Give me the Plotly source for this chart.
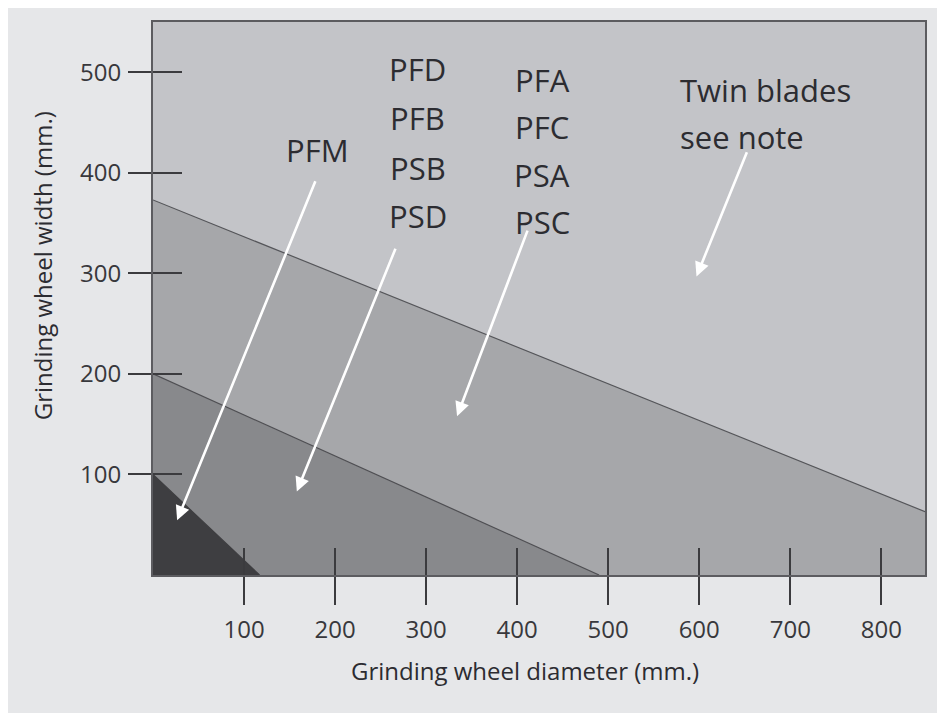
import plotly.graph_objects as go

# ---- data ----
zone_names = ["PFM", "PFD/PFB/PSB/PSD", "PFA/PFC/PSA/PSC"]
boundary_diameter = [[0, 117], [0, 490], [0, 848]]
boundary_width = [[100, 0], [200, 0], [373, 63]]

x_ticks = [100, 200, 300, 400, 500, 600, 700, 800]
y_ticks = [100, 200, 300, 400, 500]
x_range = [0, 848]
y_range = [0, 550]

label_texts = ["PFM",
               "PFD", "PFB", "PSB", "PSD",
               "PFA", "PFC", "PSA", "PSC",
               "Twin blades", "see note"]
label_x = [181, 291, 291, 291, 291, 427.5, 427.5, 427.5, 427.5, 577, 577]
label_y = [423, 503, 455, 405, 357, 492, 445.5, 398, 351.5, 482.5, 436]

arrow_tail_x = [179, 267, 412, 653]
arrow_tail_y = [393, 326, 344, 422]
arrow_head_x = [26.5, 158, 334, 597]
arrow_head_y = [54.5, 83, 158, 297]

# ---- styles ----
zone_colors = ["#3e3e41", "#88898c", "#a6a7aa"]
edge_colors = ["#3e3e41", "#4f4f53", "#55565a"]
top_color = "#c3c4c8"
paper_color = "#e6e7e9"
text_color = "#2c2c31"
font_family = "Open Sans, Noto Sans, sans-serif"

fig = go.Figure()

# draw from largest zone to smallest so the smaller ones sit on top
for i in [2, 1, 0]:
    bx = boundary_diameter[i]
    by = boundary_width[i]
    px = [0] + bx + [bx[-1], 0]
    py = [0] + by + [0, 0]
    fig.add_trace(go.Scatter(
        x=px, y=py, mode="none", fill="toself", fillcolor=zone_colors[i],
        hoverinfo="skip", showlegend=False, name=zone_names[i]))
    fig.add_trace(go.Scatter(
        x=bx, y=by, mode="lines", line=dict(color=edge_colors[i], width=1.2),
        hoverinfo="skip", showlegend=False))

# invisible trace on overlay axes (for inside tick marks)
fig.add_trace(go.Scatter(x=[x_range[0]], y=[y_range[0]], xaxis="x2", yaxis="y2",
                         mode="markers", marker=dict(opacity=0), hoverinfo="skip",
                         showlegend=False))

annotations = []
for t, x, y in zip(label_texts, label_x, label_y):
    left = t in ("Twin blades", "see note")
    annotations.append(dict(
        x=x, y=y, xref="x", yref="y", text=t, showarrow=False,
        xanchor="left" if left else "center", yanchor="middle",
        font=dict(family=font_family, size=31, color=text_color)))

for tx, ty, hx, hy in zip(arrow_tail_x, arrow_tail_y, arrow_head_x, arrow_head_y):
    annotations.append(dict(
        x=hx, y=hy, ax=tx, ay=ty, xref="x", yref="y", axref="x", ayref="y",
        text="", showarrow=True, arrowhead=2, arrowsize=1.1, arrowwidth=2.6,
        arrowcolor="white", standoff=0, startstandoff=0))

# axis titles
annotations.append(dict(
    x=0.482, y=-0.173, xref="paper", yref="paper", showarrow=False,
    text="Grinding wheel diameter (mm.)", xanchor="center", yanchor="middle",
    font=dict(family=font_family, size=24, color=text_color)))
annotations.append(dict(
    x=-0.1438, y=0.56, xref="paper", yref="paper", showarrow=False,
    text="Grinding wheel width (mm.)", textangle=-90,
    xanchor="center", yanchor="middle",
    font=dict(family=font_family, size=24, color=text_color)))

tick_color = "#3b3b3e"
tickfont = dict(family=font_family, size=24, color="#38383c")

fig.update_layout(
    width=945, height=713,
    margin=dict(l=145, r=28, t=12, b=146),
    paper_bgcolor=paper_color,
    plot_bgcolor=top_color,
    showlegend=False,
    annotations=annotations,
    xaxis=dict(range=x_range, tickvals=x_ticks, ticks="outside", ticklen=28,
               tickwidth=2, tickcolor=tick_color, showgrid=False, zeroline=False,
               showline=True, linecolor="#5c5c60", linewidth=2, mirror=True,
               tickfont=tickfont, ticklabelstandoff=4),
    yaxis=dict(range=y_range, tickvals=y_ticks, ticks="outside", ticklen=23,
               tickwidth=2, tickcolor=tick_color, showgrid=False, zeroline=False,
               showline=True, linecolor="#5c5c60", linewidth=2, mirror=True,
               tickfont=tickfont, ticklabelstandoff=2),
    xaxis2=dict(range=x_range, tickvals=x_ticks, ticks="inside", ticklen=27,
                tickwidth=2, tickcolor=tick_color, showgrid=False, zeroline=False,
                showticklabels=False, overlaying="x", side="bottom"),
    yaxis2=dict(range=y_range, tickvals=y_ticks, ticks="inside", ticklen=29,
                tickwidth=2, tickcolor=tick_color, showgrid=False, zeroline=False,
                showticklabels=False, overlaying="y", side="left"),
)

fig.write_html("out.html")
